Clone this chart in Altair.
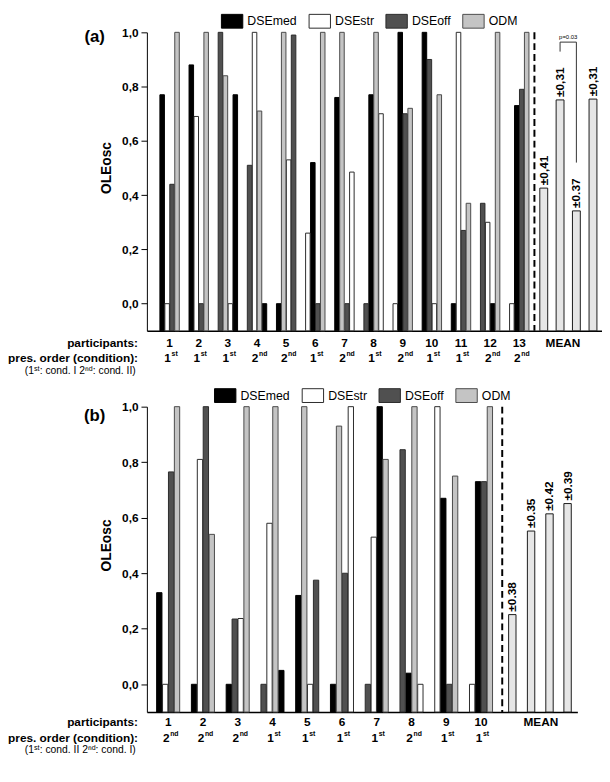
import altair as alt
import pandas as pd

FONT = "Liberation Sans"

# ---------------- data ----------------
SERIES = ["DSEmed", "DSEstr", "DSEoff", "ODM"]
CODE = {"M": "DSEmed", "S": "DSEstr", "O": "DSEoff", "D": "ODM"}
SUP = {"1": "st", "2": "nd"}

# panel (a)
A_PART = [str(i) for i in range(1, 14)]
A_MED = [0.77, 0.88, 0.77, 0.00, 0.00, 0.52, 0.76, 0.77, 1.00, 1.00, 0.00, 0.00, 0.73]
A_STR = [0.00, 0.69, 0.00, 1.00, 0.53, 0.26, 0.485, 0.70, 0.00, 0.00, 1.00, 0.30, 0.00]
A_OFF = [0.44, 0.00, 1.00, 0.51, 0.99, 0.00, 0.00, 0.00, 0.70, 0.90, 0.27, 0.37, 0.79]
A_ODM = [1.00, 1.00, 0.84, 0.71, 1.00, 1.00, 1.00, 1.00, 0.72, 0.77, 0.37, 1.00, 1.00]
A_SLOTS = ["MSOD", "MSOD", "ODSM", "OSDM", "MDSO", "SMOD", "MDOS",
           "OMDS", "SMOD", "MOSD", "MSOD", "OSMD", "SMOD"]
A_PRES = ["1", "1", "1", "2", "2", "1", "2", "1", "2", "1", "1", "2", "2"]
A_MEAN = [0.426, 0.751, 0.342, 0.754]
A_MEAN_SD = ["±0,41", "±0,31", "±0.37", "±0,31"]
A_NOTE = "(1ˢᵗ: cond. I   2ⁿᵈ: cond. II)"
A_P_TEXT = "p=0.03"
A_BRACKET_Y = [0.929, 0.964, 0.52]

# panel (b)
B_PART = [str(i) for i in range(1, 11)]
B_MED = [0.33, 0.00, 0.00, 0.05, 0.32, 0.00, 1.00, 0.04, 0.67, 0.73]
B_STR = [0.00, 0.81, 0.237, 0.58, 0.00, 1.00, 0.53, 0.00, 1.00, 0.00]
B_OFF = [0.765, 1.00, 0.235, 0.00, 0.375, 0.40, 0.00, 0.845, 0.00, 0.73]
B_ODM = [1.00, 0.54, 1.00, 1.00, 1.00, 0.93, 0.81, 1.00, 0.75, 1.00]
B_SLOTS = ["MSOD", "MSOD", "MOSD", "OSDM", "MDSO", "MDOS", "OSMD",
           "OMDS", "SMOD", "SMOD"]
B_PRES = ["2", "2", "2", "1", "1", "1", "1", "2", "1", "1"]
B_MEAN = [0.251, 0.552, 0.614, 0.651]
B_MEAN_SD = ["±0.38", "±0.35", "±0.42", "±0.39"]
B_NOTE = "(1ˢᵗ: cond. II   2ⁿᵈ: cond. I)"

# ---------------- style / layout ----------------
FILL = ["#000000", "#ffffff", "#505050", "#c4c4c4"]
EDGE = ["#000000", "#2b2b2b", "#2b2b2b", "#4a4a4a"]
MEAN_FILL = "#e6e6e6"
STEP = 0.17
NOTE_X = -127

A_LAYOUT = dict(domain=[0.39, 15.67], mean_x=[13.84, 14.40, 14.96, 15.53], dash=13.52,
                mean_label=14.5, width=462, height=303, bar=4.6, mean_bar=8,
                legend=(79, -19), tag="(a)", tag_y=5, rows=(12, 28, 41))
B_LAYOUT = dict(domain=[0.53, 12.63], mean_x=[10.90, 11.44, 11.97, 12.49], dash=10.61,
                mean_label=11.72, width=437, height=310, bar=5.4, mean_bar=7.5,
                legend=(72, -19), tag="(b)", tag_y=10, rows=(10, 26, 39))


def panel(parts, med, strv, off, odm, slots, pres, means, sds, note, L, bracket=None):
    H = L["height"]
    r1, r2, r3 = L["rows"]
    rows = []
    for i, p in enumerate(parts):
        vals = {"DSEmed": med[i], "DSEstr": strv[i], "DSEoff": off[i], "ODM": odm[i]}
        order = [CODE[c] for c in slots[i]]
        for s in SERIES:
            rows.append({"participant": int(p), "slot": order.index(s),
                         "series": s, "value": vals[s]})
    df = pd.DataFrame(rows)

    xscale = alt.Scale(domain=L["domain"], nice=False, zero=False)
    yscale = alt.Scale(domain=[-0.1, 1.0], nice=False, zero=False)

    yaxis = alt.Axis(
        values=[round(0.1 * k, 1) for k in range(11)],
        labelExpr="round(datum.value*10) % 2 == 0 ? replace(format(datum.value, '.1f'), '.', ',') : ''",
        title=None,
        labelFont=FONT, labelFontSize=12, labelFontWeight="bold", labelColor="#000",
        labelPadding=3, tickSize=6, tickColor="#000", domainColor="#000",
        grid=False,
    )
    xaxis = alt.Axis(labels=False, ticks=False, grid=False, title=None,
                     domainColor="#000", domainWidth=1.5)

    def X(field):
        return alt.X(field, scale=xscale)

    def Y(field):
        return alt.Y(field, scale=yscale)

    bars = alt.Chart(df).transform_calculate(
        xpos=f"datum.participant + (datum.slot - 1.5) * {STEP}"
    ).mark_bar(size=L["bar"], strokeWidth=1).encode(
        x=alt.X("xpos:Q", scale=xscale, axis=xaxis),
        y=alt.Y("value:Q", scale=yscale, axis=yaxis),
        y2=alt.datum(-0.1),
        color=alt.Color(
            "series:N", scale=alt.Scale(domain=SERIES, range=FILL),
            legend=alt.Legend(
                orient="none", legendX=L["legend"][0], legendY=L["legend"][1],
                direction="horizontal", columns=4, title=None, padding=0,
                symbolType="M-1.55,-1H1.55V1H-1.55Z", symbolSize=196,
                symbolStrokeColor="#000", symbolStrokeWidth=1, symbolOpacity=1,
                labelFont=FONT, labelFontSize=12.5, labelColor="#000",
                labelOffset=8, columnPadding=9,
            ),
        ),
        stroke=alt.Stroke("series:N", scale=alt.Scale(domain=SERIES, range=EDGE), legend=None),
    )

    mean_df = pd.DataFrame({"x": L["mean_x"], "value": means, "sd": sds})
    mean_bars = alt.Chart(mean_df).mark_bar(
        size=L["mean_bar"], fill=MEAN_FILL, stroke="#1a1a1a", strokeWidth=1
    ).encode(x=X("x:Q"), y=Y("value:Q"), y2=alt.datum(-0.1))
    mean_text = alt.Chart(mean_df).mark_text(
        angle=270, align="left", baseline="middle", dx=3,
        font=FONT, fontSize=12, fontWeight="bold", color="#000"
    ).encode(x=X("x:Q"), y=Y("value:Q"), text="sd:N")

    dash = alt.Chart(pd.DataFrame({"x": [L["dash"]]})).mark_rule(
        strokeDash=[7, 4], strokeWidth=2, color="#000"
    ).encode(x=X("x:Q"), y=alt.datum(1.0), y2=alt.datum(-0.1))

    lab_df = pd.DataFrame({"x": [int(p) for p in parts] + [L["mean_label"]],
                           "label": parts + ["MEAN"]})
    labels = alt.Chart(lab_df).mark_text(
        font=FONT, fontSize=12, fontWeight="bold", baseline="middle", color="#000"
    ).encode(x=X("x:Q"), y=alt.value(H + r1), text="label:N")

    ord_df = pd.DataFrame({"x": [int(p) for p in parts], "digit": pres,
                           "sup": [SUP[d] for d in pres]})
    digits = alt.Chart(ord_df).mark_text(
        font=FONT, fontSize=12, fontWeight="bold", baseline="middle", align="center",
        dx=-2, color="#000"
    ).encode(x=X("x:Q"), y=alt.value(H + r2), text="digit:N")
    sups = alt.Chart(ord_df).mark_text(
        font=FONT, fontSize=7, fontWeight="bold", baseline="middle", align="left",
        dx=2, dy=-4, color="#000"
    ).encode(x=X("x:Q"), y=alt.value(H + r2), text="sup:N")

    def side(text, y, size=12, weight="bold", align="right", x=-9):
        return alt.Chart(pd.DataFrame({"t": [text]})).mark_text(
            font=FONT, fontSize=size, fontWeight=weight, align=align,
            baseline="middle", color="#000"
        ).encode(x=alt.value(x), y=alt.value(y), text="t:N")

    row1 = side("participants:", H + r1)
    row2 = side("pres. order (condition):", H + r2)
    row3 = side(note, H + r3, size=10.5, weight="normal", align="left", x=NOTE_X + 3)

    ytitle = alt.Chart(pd.DataFrame({"t": ["OLEosc"]})).mark_text(
        font=FONT, fontSize=14, fontWeight="bold", angle=270, align="center",
        baseline="middle", color="#000"
    ).encode(x=alt.value(-40), y=alt.value(H * 0.5 / 1.1), text="t:N")

    tag = alt.Chart(pd.DataFrame({"t": [L["tag"]]})).mark_text(
        font=FONT, fontSize=17, fontWeight="bold", align="center", baseline="middle",
        color="#000"
    ).encode(x=alt.value(-53), y=alt.value(L["tag_y"]), text="t:N")

    layers = [bars, mean_bars, mean_text, dash, labels, digits, sups,
              row1, row2, row3, ytitle, tag]

    if bracket is not None:
        mx = L["mean_x"]
        by = bracket["y"]
        br_df = pd.DataFrame({"x": [mx[1], mx[1], mx[2]], "x2": [mx[1], mx[2], mx[2]],
                              "y": [by[0], by[1], by[1]], "y2": [by[1], by[1], by[2]]})
        br = alt.Chart(br_df).mark_rule(color="#333", strokeWidth=1).encode(
            x=X("x:Q"), x2="x2:Q", y=Y("y:Q"), y2="y2:Q",
        )
        ptxt = alt.Chart(pd.DataFrame({"x": [(mx[1] + mx[2]) / 2], "y": [by[1]],
                                       "t": [bracket["text"]]})).mark_text(
            font=FONT, fontSize=6, baseline="bottom", dy=-2, color="#000"
        ).encode(x=X("x:Q"), y=Y("y:Q"), text="t:N")
        layers += [br, ptxt]

    return alt.layer(*layers).properties(width=L["width"], height=H)


pa = panel(A_PART, A_MED, A_STR, A_OFF, A_ODM, A_SLOTS, A_PRES, A_MEAN, A_MEAN_SD,
           A_NOTE, A_LAYOUT, bracket={"y": A_BRACKET_Y, "text": A_P_TEXT})
pb = panel(B_PART, B_MED, B_STR, B_OFF, B_ODM, B_SLOTS, B_PRES, B_MEAN, B_MEAN_SD,
           B_NOTE, B_LAYOUT)

chart = alt.vconcat(pa, pb, spacing=11).resolve_scale(
    x="independent", y="independent", color="independent", stroke="independent"
).resolve_legend(color="independent", stroke="independent").properties(
    padding=0
).configure_view(stroke=None)

chart.save("out.html", embed_options={"renderer": "svg", "actions": False})
